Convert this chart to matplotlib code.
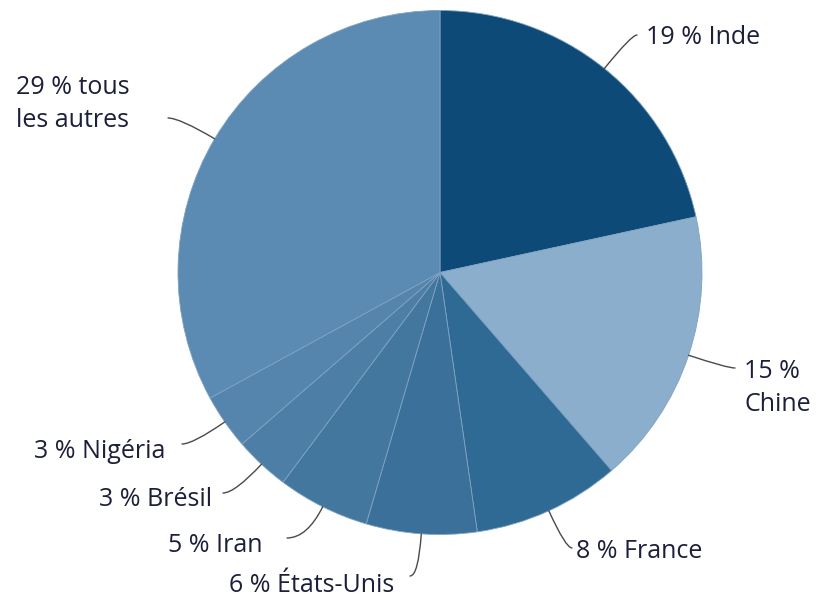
import numpy as np
import matplotlib
matplotlib.use("Agg")
import matplotlib.pyplot as plt

# shares (in %) - clockwise from 12 o'clock
countries = ["Inde", "Chine", "France", "États-Unis", "Iran", "Brésil", "Nigéria", "tous les autres"]
shares = [19, 15, 8, 6, 5, 3, 3, 29]
labels = ["19 % Inde", "15 %\nChine", "8 % France", "6 % États-Unis",
          "5 % Iran", "3 % Brésil", "3 % Nigéria", "29 % tous\nles autres"]
colors = ["#0d4a78", "#8aaecb", "#2f6a95", "#3a7099", "#44779e",
          "#4d7ea5", "#5585ad", "#5b8ab2"]

# label placement (pixel coords, y from top): x, y, ha, end of leader line
label_pos = [
    (646, 38, "left", (637, 35)),
    (744, 388, "left", (735, 368)),
    (576, 552, "left", (572, 548)),
    (394, 585, "right", (410, 576)),
    (263, 545, "right", (287, 538)),
    (212, 500, "right", (223, 493)),
    (165, 451, "right", (182, 444)),
    (16, 104, "left", (168, 118)),
]

W, H = 827, 604
plt.rcParams['font.family'] = ['Open Sans', 'DejaVu Sans']

fig = plt.figure(figsize=(W / 100, H / 100), dpi=100)
ax = fig.add_axes([0, 0, 1, 1])

cx, cy, r = 440, H - 272.5, 262
wedges, _ = ax.pie(shares, colors=colors, startangle=90, counterclock=False,
                   radius=r, center=(cx, cy),
                   wedgeprops=dict(edgecolor="#7fa3c2", linewidth=0.6))

for w, lab, (tx, ty, ha, end) in zip(wedges, labels, label_pos):
    mid = (w.theta1 + w.theta2) / 2
    edge = (cx + r * np.cos(np.radians(mid)), cy + r * np.sin(np.radians(mid)))
    ax.text(tx, H - ty, lab, ha=ha, va="center", fontsize=18,
            color="#1b1f3a", linespacing=1.4, multialignment="left")
    ax.annotate("", xy=edge, xytext=(end[0], H - end[1]),
                arrowprops=dict(arrowstyle="-", color="#4a4a4a", lw=1.0,
                                shrinkA=0, shrinkB=0,
                                connectionstyle="angle3,angleA=0,angleB=%.1f" % mid))

ax.set_xlim(0, W)
ax.set_ylim(0, H)
ax.set_aspect("equal")
ax.axis("off")

fig.savefig("out.png", dpi=100)
